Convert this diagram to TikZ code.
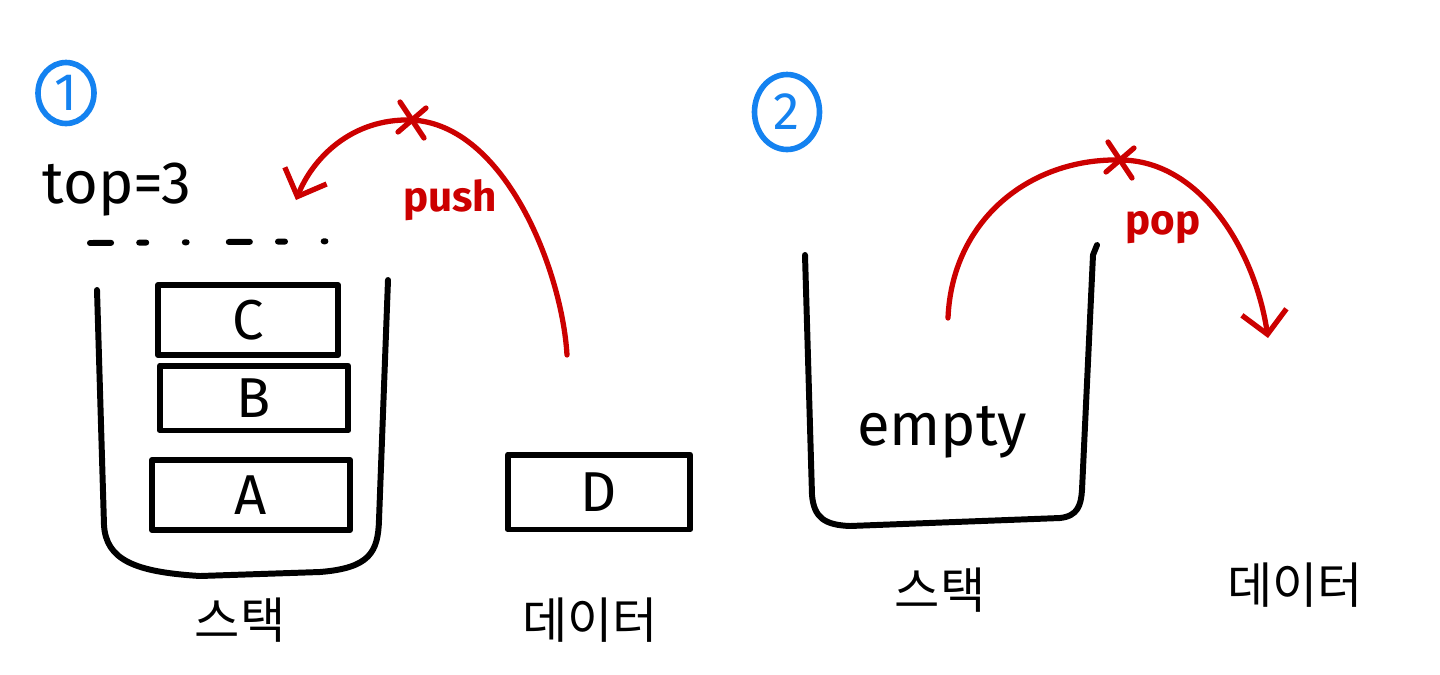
\documentclass[tikz,border=0pt]{standalone}
\usepackage{fontspec}
\setmainfont{Fira Sans}
\newfontfamily\krfont{Noto Sans CJK KR}
\usetikzlibrary{shapes.geometric,arrows.meta}
\definecolor{penred}{RGB}{204,0,0}
\definecolor{penblue}{RGB}{20,130,240}
\tikzset{
  ink/.style={line width=3.4pt, line cap=round, line join=round},
  databox/.style={draw, ink, rectangle, inner sep=0pt, font=\fontsize{32}{36}\selectfont},
  redink/.style={ink, draw=penred, line width=3pt},
  numcircle/.style={draw=penblue, ellipse, line width=3.2pt, text=penblue, inner sep=0pt, font=\fontsize{30}{34}\selectfont},
  hlabel/.style={font=\fontsize{34}{38}\selectfont},
  redlabel/.style={text=penred, font=\bfseries\fontsize{24}{28}\selectfont},
  krlabel/.style={font=\krfont\fontsize{28}{32}\selectfont},
  barb/.style={-{Straight Barb[length=0.45cm,width=0.9cm,line width=3pt]}}
}
\begin{document}
\begin{tikzpicture}[x=0.02cm,y=-0.02cm]
\path[use as bounding box, fill=white] (0,0) rectangle (1440,674);

% ---- panel 1 ----
\node[numcircle, minimum width=1.12cm, minimum height=1.22cm] (n1) at (66,93) {1};
\node[hlabel] (top) at (117,190) {top=3};
\draw[ink, dash pattern=on 12pt off 16pt on 4pt off 22pt on 1pt off 24pt] (90,243) -- (360,241);

% stack 1 container
\coordinate (s1tl) at (97,290);
\coordinate (s1tr) at (388,280);
\draw[ink] (s1tl) -- (104,525) .. controls (106,560) and (135,572) .. (200,576)
  -- (320,572) .. controls (370,568) and (378,552) .. (379,520) -- (s1tr);

\node[databox, minimum width=3.6cm, minimum height=1.4cm] (C) at (248,320) {C};
\node[databox, minimum width=3.76cm, minimum height=1.3cm] (B) at (254,398) {B};
\node[databox, minimum width=3.96cm, minimum height=1.4cm] (A) at (251,495) {A};
\node[databox, minimum width=3.64cm, minimum height=1.5cm] (D) at (599,492) {D};

\node[krlabel] (stack1) at (240,620) {스택};
\node[krlabel] (data1) at (590,620) {데이터};

% push arrow
\coordinate (pushstart) at (567,355);
\coordinate (pushx) at (412,120);
\coordinate (pushend) at (296,200);
\draw[redink, barb] (pushstart) .. controls (562,270) and (505,125) .. (pushx)
  .. controls (350,118) and (312,160) .. (pushend);
\draw[redink] ([shift={(-12,-18)}]pushx) -- ([shift={(12,18)}]pushx);
\draw[redink] ([shift={(14,-12)}]pushx) -- ([shift={(-14,12)}]pushx);
\node[redlabel] (push) at (450,200) {push};

% ---- panel 2 ----
\node[numcircle, minimum width=1.3cm, minimum height=1.5cm] (n2) at (787,112) {2};

\coordinate (s2tl) at (805,255);
\coordinate (s2tr) at (1097,245);
\draw[ink] (s2tl) -- (812,495) .. controls (814,518) and (825,525) .. (850,526)
  -- (1060,518) .. controls (1078,516) and (1081,505) .. (1082,490) -- (1093,255)
  -- (s2tr);

\node[hlabel] (empty) at (942,432) {empty};
\node[krlabel] (stack2) at (940,590) {스택};
\node[krlabel] (data2) at (1295,585) {데이터};

% pop arrow
\coordinate (popstart) at (948,318);
\coordinate (popx) at (1120,160);
\coordinate (popend) at (1268,338);
\draw[redink, barb] (popstart) .. controls (952,220) and (1030,158) .. (popx)
  .. controls (1200,160) and (1255,250) .. (popend);
\draw[redink] ([shift={(-12,-18)}]popx) -- ([shift={(12,18)}]popx);
\draw[redink] ([shift={(14,-12)}]popx) -- ([shift={(-14,12)}]popx);
\node[redlabel] (pop) at (1163,228) {pop};
\end{tikzpicture}
\end{document}
